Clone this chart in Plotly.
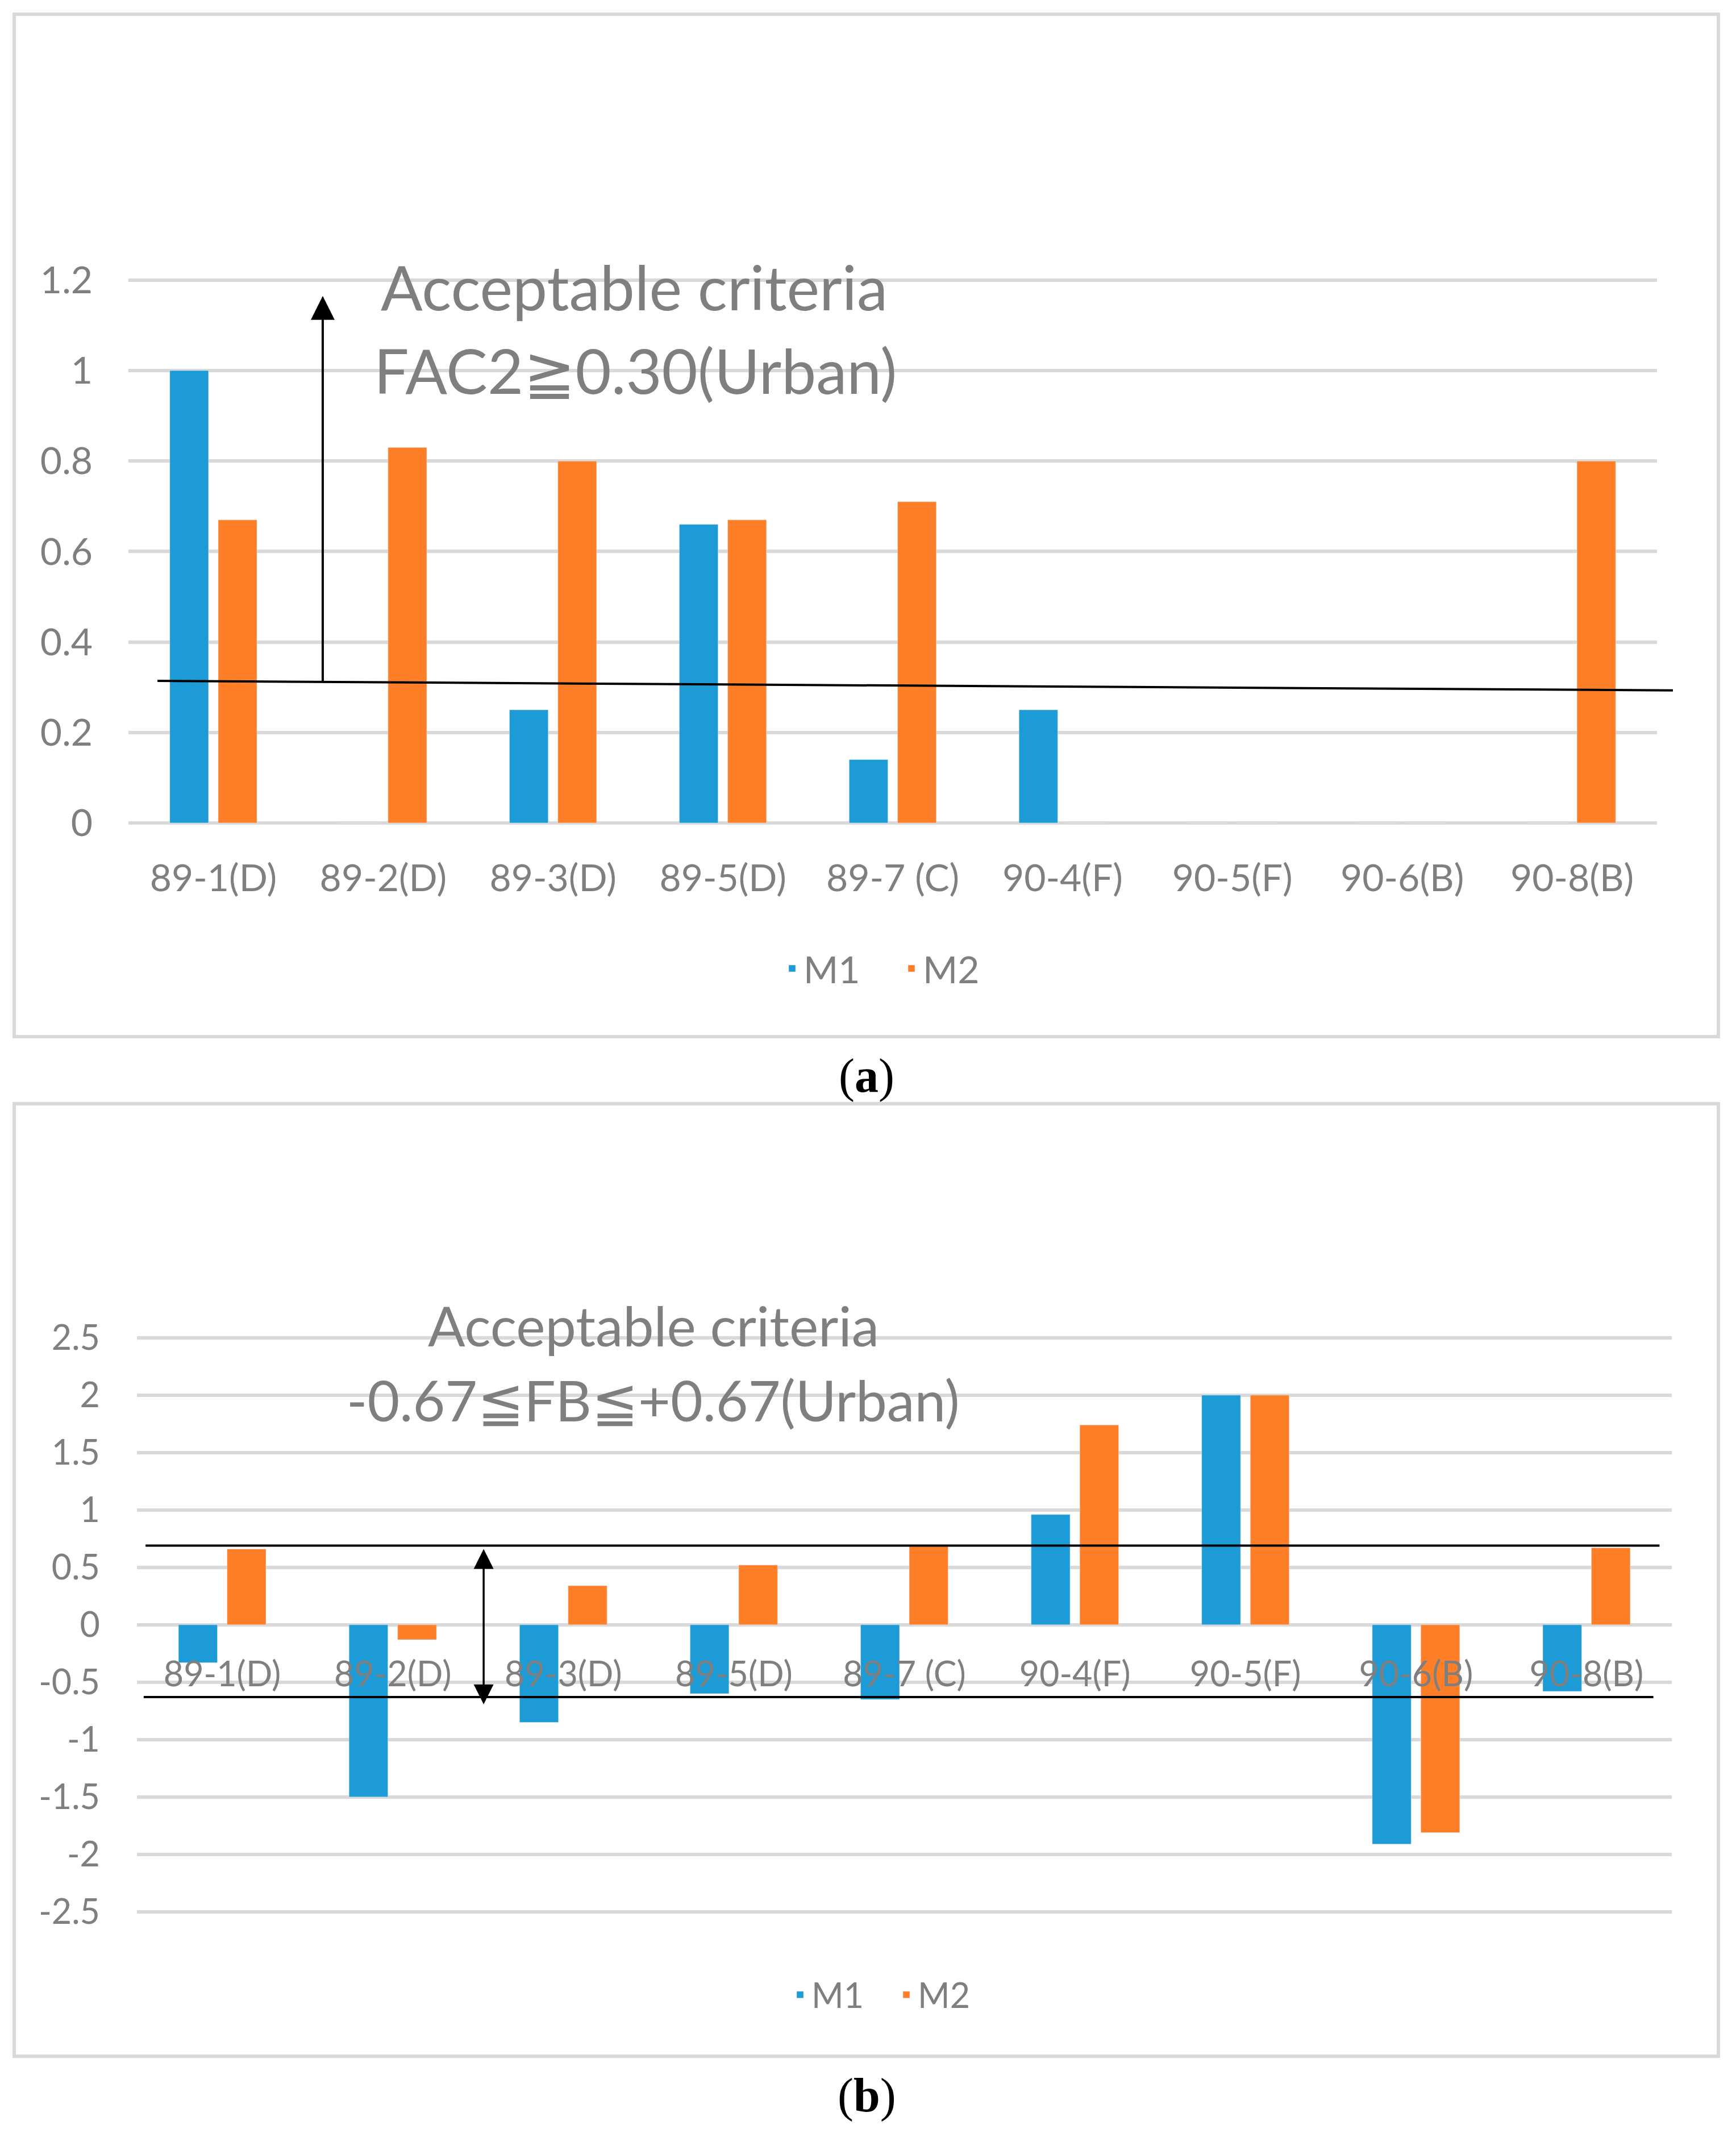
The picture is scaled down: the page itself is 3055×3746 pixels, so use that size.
import plotly.graph_objects as go

# ---------------- data ----------------
categories = ["89-1(D)", "89-2(D)", "89-3(D)", "89-5(D)", "89-7 (C)",
              "90-4(F)", "90-5(F)", "90-6(B)", "90-8(B)"]

fac2_m1 = [1.00, 0.00, 0.25, 0.66, 0.14, 0.25, 0.00, 0.00, 0.00]
fac2_m2 = [0.67, 0.83, 0.80, 0.67, 0.71, 0.00, 0.00, 0.00, 0.80]

fb_m1 = [-0.33, -1.50, -0.85, -0.60, -0.65, 0.96, 2.00, -1.91, -0.58]
fb_m2 = [0.66, -0.13, 0.34, 0.52, 0.69, 1.74, 2.00, -1.81, 0.67]

fac2_ticks = [0, 0.2, 0.4, 0.6, 0.8, 1.0, 1.2]
fac2_ticktext = ["0", "0.2", "0.4", "0.6", "0.8", "1", "1.2"]
fb_ticks = [-2.5, -2, -1.5, -1, -0.5, 0, 0.5, 1, 1.5, 2, 2.5]
fb_ticktext = ["-2.5", "-2", "-1.5", "-1", "-0.5", "0", "0.5", "1", "1.5", "2", "2.5"]

# hand-drawn criterion lines (values in data units)
fac2_line = [0.314, 0.293]      # left end, right end
fac2_arrow_top = 1.165
fb_upper = 0.69
fb_lower = -0.63
fb_arrow = [-0.70, 0.66]

# ---------------- styling ----------------
W, H = 3055, 3746
BLUE = "#1d9bd7"
ORANGE = "#fe7f27"
GRID = "#d9d9d9"
GRAY = "#7f7f7f"
FONT = "Lato, 'DejaVu Sans', sans-serif"
SERIF = "'Liberation Serif', 'DejaVu Serif', serif"


def px(p):
    return p / W


def py(p):
    return 1 - p / H


fig = go.Figure()

fig.add_trace(go.Bar(x=categories, y=fac2_m1, name="M1", marker_color=BLUE,
                     xaxis="x", yaxis="y", legend="legend"))
fig.add_trace(go.Bar(x=categories, y=fac2_m2, name="M2", marker_color=ORANGE,
                     xaxis="x", yaxis="y", legend="legend"))
fig.add_trace(go.Bar(x=categories, y=fb_m1, name="M1", marker_color=BLUE,
                     xaxis="x2", yaxis="y2", legend="legend2"))
fig.add_trace(go.Bar(x=categories, y=fb_m2, name="M2", marker_color=ORANGE,
                     xaxis="x2", yaxis="y2", legend="legend2"))

tickfont_a = dict(family=FONT, size=66, color=GRAY)
tickfont_b = dict(family=FONT, size=61, color=GRAY)

# panel a geometry (pixels)
a_zero, a_unit = 1448.0, 796.0
a_rng = [-0.004, 1.204]
a_dom = [py(a_zero - a_rng[0] * a_unit), py(a_zero - a_rng[1] * a_unit)]
# panel b geometry
b_zero, b_unit = 2858.8, 202.04
b_rng = [-2.52, 2.52]
b_dom = [py(b_zero - b_rng[0] * b_unit), py(b_zero - b_rng[1] * b_unit)]

fig.update_layout(
    width=W, height=H,
    margin=dict(l=0, r=0, t=0, b=0, autoexpand=False),
    paper_bgcolor="white", plot_bgcolor="white",
    barmode="group", bargap=0.43, bargroupgap=0.2,
    font=dict(family=FONT, color=GRAY),
    xaxis=dict(domain=[px(226), px(2916)], anchor="y", type="category",
               range=[-0.5, 8.5], showgrid=False, showline=False, zeroline=False,
               ticks="", tickfont=tickfont_a, ticklabelstandoff=50, automargin=False),
    yaxis=dict(domain=a_dom, anchor="x", range=a_rng, tickvals=fac2_ticks,
               ticktext=fac2_ticktext, showgrid=True, gridcolor=GRID, gridwidth=6,
               zeroline=False, showline=False, ticks="", tickfont=tickfont_a,
               ticklabelstandoff=62, automargin=False),
    xaxis2=dict(domain=[px(241), px(2942)], anchor="free", position=py(b_zero),
                type="category", range=[-0.5, 8.5], showgrid=False, showline=False,
                zeroline=False, ticks="", tickfont=tickfont_b, ticklabelstandoff=46,
                automargin=False),
    yaxis2=dict(domain=b_dom, anchor="x2", range=b_rng, tickvals=fb_ticks,
                ticktext=fb_ticktext, showgrid=True, gridcolor=GRID, gridwidth=6,
                zeroline=False, showline=False, ticks="", tickfont=tickfont_b,
                ticklabelstandoff=64, automargin=False),
    legend=dict(orientation="h", x=px(1374), y=py(1704), xanchor="left",
                yanchor="middle", font=dict(family=FONT, size=66, color=GRAY),
                entrywidth=165, bgcolor="rgba(0,0,0,0)"),
    legend2=dict(orientation="h", x=px(1388), y=py(3510), xanchor="left",
                 yanchor="middle", font=dict(family=FONT, size=61, color=GRAY),
                 entrywidth=142, bgcolor="rgba(0,0,0,0)"),
)

shapes = [
    # panel frames
    dict(type="rect", xref="paper", yref="paper", x0=px(25), x1=px(3024),
         y0=py(1824), y1=py(25), line=dict(color=GRID, width=6)),
    dict(type="rect", xref="paper", yref="paper", x0=px(25), x1=px(3024),
         y0=py(3618), y1=py(1942), line=dict(color=GRID, width=6)),
    # criterion lines
    dict(type="line", xref="x domain", yref="y", x0=0.019, x1=1.0104,
         y0=fac2_line[0], y1=fac2_line[1], line=dict(color="black", width=4)),
    dict(type="line", xref="x2 domain", yref="y2", x0=0.0056, x1=0.992,
         y0=fb_upper, y1=fb_upper, line=dict(color="black", width=4)),
    dict(type="line", xref="x2 domain", yref="y2", x0=0.0044, x1=0.988,
         y0=fb_lower, y1=fb_lower, line=dict(color="black", width=4)),
]
fig.update_layout(shapes=shapes)

annotations = [
    # arrows
    dict(xref="x", yref="y", axref="x", ayref="y", x=0.644, y=fac2_arrow_top,
         ax=0.644, ay=fac2_line[0] - 0.002, text="", showarrow=True, arrowhead=2,
         arrowsize=2.1, arrowwidth=4, arrowcolor="black"),
    dict(xref="x2", yref="y2", axref="x2", ayref="y2", x=1.533, y=fb_arrow[1],
         ax=1.533, ay=fb_arrow[0], text="", showarrow=True, arrowside="end+start",
         arrowhead=2, startarrowhead=2, arrowsize=2.0, startarrowsize=2.0,
         arrowwidth=3.5, arrowcolor="black"),
    # criteria texts
    dict(xref="paper", yref="paper", x=px(1116), y=py(503), xanchor="center",
         yanchor="middle", showarrow=False, text="Acceptable criteria",
         font=dict(family=FONT, size=109, color=GRAY)),
    dict(xref="paper", yref="paper", x=px(1118), y=py(651), xanchor="center",
         yanchor="middle", showarrow=False, text="FAC2≧0.30(Urban)",
         font=dict(family=FONT, size=109, color=GRAY)),
    dict(xref="paper", yref="paper", x=px(1150), y=py(2331), xanchor="center",
         yanchor="middle", showarrow=False, text="Acceptable criteria",
         font=dict(family=FONT, size=97, color=GRAY)),
    dict(xref="paper", yref="paper", x=px(1149), y=py(2463), xanchor="center",
         yanchor="middle", showarrow=False, text="-0.67≦FB≦+0.67(Urban)",
         font=dict(family=FONT, size=98, color=GRAY)),
    # captions
    dict(xref="paper", yref="paper", x=px(1525), y=py(1893), xanchor="center",
         yanchor="middle", showarrow=False, text="(<b>a</b>)",
         font=dict(family=SERIF, size=84, color="black")),
    dict(xref="paper", yref="paper", x=px(1525), y=py(3687), xanchor="center",
         yanchor="middle", showarrow=False, text="(<b>b</b>)",
         font=dict(family=SERIF, size=84, color="black")),
]
fig.update_layout(annotations=annotations)

fig.write_html("out.html", config={"displayModeBar": False},
               post_script="document.body.style.margin='0';"
                           "document.body.style.padding='0';")
